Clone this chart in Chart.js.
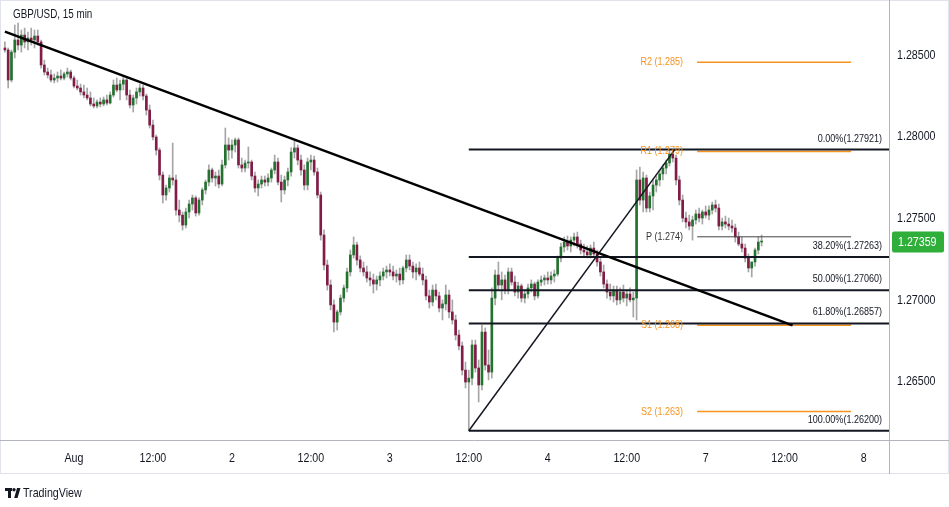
<!DOCTYPE html>
<html>
<head>
<meta charset="utf-8">
<title>GBP/USD, 15 min</title>
<script src="https://cdn.jsdelivr.net/npm/chart.js@4.4.1/dist/chart.umd.min.js"></script>
<style>
  html, body { margin: 0; padding: 0; background: #ffffff; }
  #chart { display: block; }
</style>
</head>
<body>
<canvas id="chart" width="949" height="507"></canvas>
<script>
// Candle data (30 min bars), time in trading hours from Aug 1 00:00
const startHour = -10.5;
const barHours = 0.5;

const opens = [
  1.28543, 1.28531, 1.28347, 1.28518, 1.28592, 1.28561, 1.28622, 1.28580, 1.28604, 1.28592,
  1.28616, 1.28580, 1.28439, 1.28396, 1.28378, 1.28347, 1.28359, 1.28371, 1.28359, 1.28384,
  1.28396, 1.28359, 1.28310, 1.28298, 1.28274, 1.28255, 1.28237, 1.28200, 1.28188, 1.28212,
  1.28200, 1.28225, 1.28206, 1.28255, 1.28316, 1.28286, 1.28322, 1.28347, 1.28255, 1.28194,
  1.28237, 1.28274, 1.28298, 1.28249, 1.28163, 1.28071, 1.27998, 1.27918, 1.27765, 1.27643,
  1.27686, 1.27747, 1.27735, 1.27551, 1.27520, 1.27459, 1.27539, 1.27588, 1.27625, 1.27533,
  1.27612, 1.27674, 1.27722, 1.27796, 1.27747, 1.27759, 1.27710, 1.27827, 1.27949, 1.27918,
  1.27949, 1.27980, 1.27827, 1.27808, 1.27839, 1.27845, 1.27759, 1.27686, 1.27710, 1.27735,
  1.27722, 1.27747, 1.27796, 1.27845, 1.27722, 1.27674, 1.27735, 1.27784, 1.27906, 1.27931,
  1.27857, 1.27796, 1.27704, 1.27845, 1.27857, 1.27784, 1.27643, 1.27398, 1.27214, 1.27092,
  1.26970, 1.26865, 1.26927, 1.27012, 1.27074, 1.27172, 1.27276, 1.27337, 1.27245, 1.27196,
  1.27172, 1.27135, 1.27123, 1.27098, 1.27123, 1.27147, 1.27172, 1.27184, 1.27172, 1.27147,
  1.27159, 1.27123, 1.27196, 1.27245, 1.27208, 1.27172, 1.27196, 1.27159, 1.27123, 1.27025,
  1.26988, 1.27061, 1.27025, 1.26951, 1.26976, 1.27031, 1.26927, 1.26878, 1.26786, 1.26719,
  1.26571, 1.26498, 1.26522, 1.26725, 1.26584, 1.26480, 1.26804, 1.26602, 1.26559, 1.27012,
  1.27153, 1.27092, 1.27123, 1.27061, 1.27172, 1.27110, 1.27049, 1.27086, 1.27012, 1.27037,
  1.27074, 1.27098, 1.27025, 1.27110, 1.27123, 1.27135, 1.27123, 1.27147, 1.27159, 1.27257,
  1.27325, 1.27355, 1.27331, 1.27367, 1.27386, 1.27343, 1.27306, 1.27294, 1.27276, 1.27318,
  1.27282, 1.27233, 1.27172, 1.27098, 1.27049, 1.27025, 1.27061, 1.27001, 1.27049, 1.27012,
  1.27037, 1.27001, 1.27012, 1.27735, 1.27612, 1.27747, 1.27563, 1.27637, 1.27704, 1.27735,
  1.27772, 1.27808, 1.27839, 1.27894, 1.27869, 1.27735, 1.27612, 1.27502, 1.27478, 1.27453,
  1.27490, 1.27527, 1.27502, 1.27539, 1.27520, 1.27551, 1.27582, 1.27563, 1.27453, 1.27478,
  1.27465, 1.27453, 1.27441, 1.27386, 1.27343, 1.27318, 1.27257, 1.27196, 1.27233, 1.27306,
  1.27355
];

const highs = [
  1.28580, 1.28543, 1.28531, 1.28684, 1.28696, 1.28653, 1.28665, 1.28641, 1.28665, 1.28653,
  1.28653, 1.28592, 1.28469, 1.28420, 1.28408, 1.28384, 1.28396, 1.28408, 1.28396, 1.28420,
  1.28408, 1.28371, 1.28347, 1.28322, 1.28316, 1.28298, 1.28274, 1.28237, 1.28225, 1.28237,
  1.28243, 1.28255, 1.28274, 1.28347, 1.28359, 1.28347, 1.28371, 1.28359, 1.28286, 1.28255,
  1.28298, 1.28322, 1.28316, 1.28261, 1.28194, 1.28102, 1.28010, 1.27931, 1.27784, 1.27704,
  1.27765, 1.27961, 1.27765, 1.27612, 1.27539, 1.27563, 1.27612, 1.27643, 1.27637, 1.27625,
  1.27686, 1.27735, 1.27827, 1.27808, 1.27784, 1.27796, 1.27857, 1.28053, 1.27992, 1.27980,
  1.27992, 1.27992, 1.27869, 1.27857, 1.27937, 1.27857, 1.27784, 1.27735, 1.27759, 1.27759,
  1.27772, 1.27808, 1.27888, 1.27869, 1.27765, 1.27759, 1.27808, 1.27931, 1.27974, 1.27949,
  1.27888, 1.27827, 1.27869, 1.27888, 1.27882, 1.27808, 1.27661, 1.27429, 1.27245, 1.27123,
  1.27001, 1.26939, 1.27031, 1.27092, 1.27196, 1.27306, 1.27386, 1.27355, 1.27270, 1.27233,
  1.27208, 1.27172, 1.27159, 1.27147, 1.27172, 1.27196, 1.27208, 1.27221, 1.27208, 1.27184,
  1.27196, 1.27208, 1.27276, 1.27276, 1.27233, 1.27221, 1.27233, 1.27196, 1.27147, 1.27061,
  1.27092, 1.27098, 1.27049, 1.27001, 1.27092, 1.27061, 1.27001, 1.26908, 1.26816, 1.26743,
  1.26620, 1.26571, 1.26755, 1.26755, 1.26633, 1.26847, 1.26829, 1.26694, 1.27074, 1.27184,
  1.27233, 1.27172, 1.27153, 1.27196, 1.27196, 1.27147, 1.27110, 1.27098, 1.27061, 1.27098,
  1.27123, 1.27110, 1.27123, 1.27147, 1.27153, 1.27172, 1.27172, 1.27184, 1.27270, 1.27349,
  1.27386, 1.27392, 1.27386, 1.27410, 1.27416, 1.27367, 1.27343, 1.27331, 1.27337, 1.27355,
  1.27306, 1.27257, 1.27214, 1.27123, 1.27098, 1.27086, 1.27086, 1.27074, 1.27092, 1.27061,
  1.27074, 1.27049, 1.27796, 1.27814, 1.27784, 1.27765, 1.27661, 1.27735, 1.27759, 1.27796,
  1.27827, 1.27857, 1.27918, 1.27921, 1.27888, 1.27759, 1.27643, 1.27539, 1.27520, 1.27514,
  1.27551, 1.27563, 1.27551, 1.27576, 1.27576, 1.27600, 1.27612, 1.27588, 1.27502, 1.27514,
  1.27502, 1.27490, 1.27465, 1.27416, 1.27386, 1.27343, 1.27282, 1.27233, 1.27318, 1.27386,
  1.27398
];

const lows = [
  1.28518, 1.28298, 1.28335, 1.28482, 1.28531, 1.28518, 1.28543, 1.28531, 1.28561, 1.28543,
  1.28561, 1.28420, 1.28378, 1.28359, 1.28335, 1.28329, 1.28335, 1.28347, 1.28347, 1.28365,
  1.28347, 1.28298, 1.28286, 1.28255, 1.28237, 1.28225, 1.28188, 1.28176, 1.28176, 1.28182,
  1.28188, 1.28194, 1.28200, 1.28243, 1.28274, 1.28225, 1.28286, 1.28225, 1.28176, 1.28151,
  1.28200, 1.28249, 1.28225, 1.28133, 1.28053, 1.27980, 1.27888, 1.27735, 1.27594, 1.27612,
  1.27661, 1.27704, 1.27520, 1.27478, 1.27429, 1.27441, 1.27502, 1.27551, 1.27514, 1.27520,
  1.27582, 1.27649, 1.27698, 1.27722, 1.27698, 1.27686, 1.27698, 1.27808, 1.27857, 1.27869,
  1.27906, 1.27808, 1.27784, 1.27784, 1.27808, 1.27735, 1.27661, 1.27637, 1.27686, 1.27698,
  1.27698, 1.27722, 1.27772, 1.27704, 1.27600, 1.27649, 1.27698, 1.27759, 1.27869, 1.27827,
  1.27765, 1.27674, 1.27674, 1.27796, 1.27765, 1.27625, 1.27367, 1.27184, 1.27061, 1.26939,
  1.26804, 1.26816, 1.26908, 1.26988, 1.27049, 1.27147, 1.27257, 1.27214, 1.27172, 1.27147,
  1.27110, 1.27086, 1.27043, 1.27061, 1.27086, 1.27123, 1.27135, 1.27147, 1.27123, 1.27110,
  1.27092, 1.27098, 1.27172, 1.27184, 1.27135, 1.27123, 1.27147, 1.27092, 1.27001, 1.26951,
  1.26964, 1.27001, 1.26927, 1.26878, 1.26939, 1.26890, 1.26853, 1.26755, 1.26694, 1.26541,
  1.26462, 1.26200, 1.26480, 1.26559, 1.26376, 1.26449, 1.26571, 1.26511, 1.26522, 1.26970,
  1.27061, 1.27001, 1.27037, 1.27037, 1.27092, 1.27025, 1.27012, 1.26988, 1.26982, 1.27012,
  1.27049, 1.27001, 1.27012, 1.27086, 1.27092, 1.27098, 1.27098, 1.27110, 1.27147, 1.27233,
  1.27294, 1.27306, 1.27294, 1.27331, 1.27318, 1.27282, 1.27270, 1.27257, 1.27257, 1.27270,
  1.27208, 1.27147, 1.27074, 1.27012, 1.27001, 1.26988, 1.26970, 1.26976, 1.26988, 1.26964,
  1.26988, 1.26896, 1.26878, 1.27582, 1.27539, 1.27539, 1.27539, 1.27551, 1.27661, 1.27698,
  1.27735, 1.27772, 1.27820, 1.27845, 1.27704, 1.27582, 1.27478, 1.27441, 1.27429, 1.27367,
  1.27465, 1.27478, 1.27465, 1.27502, 1.27490, 1.27527, 1.27539, 1.27429, 1.27429, 1.27441,
  1.27429, 1.27416, 1.27355, 1.27331, 1.27294, 1.27233, 1.27172, 1.27141, 1.27208, 1.27282,
  1.27331
];

const closes = [
  1.28531, 1.28347, 1.28518, 1.28592, 1.28561, 1.28622, 1.28580, 1.28604, 1.28592, 1.28616,
  1.28580, 1.28439, 1.28396, 1.28378, 1.28347, 1.28359, 1.28371, 1.28359, 1.28384, 1.28396,
  1.28359, 1.28310, 1.28298, 1.28274, 1.28255, 1.28237, 1.28200, 1.28188, 1.28212, 1.28200,
  1.28225, 1.28206, 1.28255, 1.28316, 1.28286, 1.28322, 1.28347, 1.28255, 1.28194, 1.28237,
  1.28274, 1.28298, 1.28249, 1.28163, 1.28071, 1.27998, 1.27918, 1.27765, 1.27643, 1.27686,
  1.27747, 1.27735, 1.27551, 1.27520, 1.27459, 1.27539, 1.27588, 1.27625, 1.27533, 1.27612,
  1.27674, 1.27722, 1.27796, 1.27747, 1.27759, 1.27710, 1.27827, 1.27949, 1.27918, 1.27949,
  1.27980, 1.27827, 1.27808, 1.27839, 1.27845, 1.27759, 1.27686, 1.27710, 1.27735, 1.27722,
  1.27747, 1.27796, 1.27845, 1.27722, 1.27674, 1.27735, 1.27784, 1.27906, 1.27931, 1.27857,
  1.27796, 1.27704, 1.27845, 1.27857, 1.27784, 1.27643, 1.27398, 1.27214, 1.27092, 1.26970,
  1.26865, 1.26927, 1.27012, 1.27074, 1.27172, 1.27276, 1.27337, 1.27245, 1.27196, 1.27172,
  1.27135, 1.27123, 1.27098, 1.27123, 1.27147, 1.27172, 1.27184, 1.27172, 1.27147, 1.27159,
  1.27123, 1.27196, 1.27245, 1.27208, 1.27172, 1.27196, 1.27159, 1.27123, 1.27025, 1.26988,
  1.27061, 1.27025, 1.26951, 1.26976, 1.27031, 1.26927, 1.26878, 1.26786, 1.26719, 1.26571,
  1.26498, 1.26522, 1.26725, 1.26584, 1.26480, 1.26804, 1.26602, 1.26559, 1.27012, 1.27153,
  1.27092, 1.27123, 1.27061, 1.27172, 1.27110, 1.27049, 1.27086, 1.27012, 1.27037, 1.27074,
  1.27098, 1.27025, 1.27110, 1.27123, 1.27135, 1.27123, 1.27147, 1.27159, 1.27257, 1.27325,
  1.27355, 1.27331, 1.27367, 1.27386, 1.27343, 1.27306, 1.27294, 1.27276, 1.27318, 1.27282,
  1.27233, 1.27172, 1.27098, 1.27049, 1.27025, 1.27061, 1.27001, 1.27049, 1.27012, 1.27037,
  1.27001, 1.27012, 1.27735, 1.27612, 1.27747, 1.27563, 1.27637, 1.27704, 1.27735, 1.27772,
  1.27808, 1.27839, 1.27894, 1.27869, 1.27735, 1.27612, 1.27502, 1.27478, 1.27453, 1.27490,
  1.27527, 1.27502, 1.27539, 1.27520, 1.27551, 1.27582, 1.27563, 1.27453, 1.27478, 1.27465,
  1.27453, 1.27441, 1.27386, 1.27343, 1.27318, 1.27257, 1.27196, 1.27233, 1.27306, 1.27355,
  1.27359
];

// Axis ticks
const timeTickHours = [0, 12, 24, 36, 48, 60, 72, 84, 96, 108, 120];
const timeTickLabels = ['Aug', '12:00', '2', '12:00', '3', '12:00', '4', '12:00', '7', '12:00', '8'];
const priceTicks = [1.265, 1.27, 1.275, 1.28, 1.285];

// Drawings: trend line, fib retracement, daily pivots
const trendHours = [-10.5, 109.2];
const trendPrices = [1.28643, 1.26845];

const fibHours = [60, 91.3];
const fibRatios = ['0.00%', '38.20%', '50.00%', '61.80%', '100.00%'];
const fibPrices = [1.27921, 1.27263, 1.27060, 1.26857, 1.26200];

const pivotNames = ['R2', 'R1', 'P', 'S1', 'S2'];
const pivotPrices = [1.28455, 1.27910, 1.27387, 1.26845, 1.26317];
const pivotHours = [94.7, 118.1];

const UP = '#23722f';
const DOWN = '#801c46';
const WICK = '#a6a6a6';
const INK = '#131722';
const ORANGE = '#f7931e';
const FONT = "'Liberation Sans', Arial, sans-serif";
const SQUEEZE = 0.82; // the screenshot text is horizontally condensed

Chart.defaults.font.family = FONT;

const times = opens.map((_, i) => startHour + i * barHours);
const isUp = i => closes[i] >= opens[i];

/**
 * Two point line dataset on the time/price scales
 */
function segment(hours, prices, color, width) {
  return {
    type: 'line',
    data: [{ x: hours[0], y: prices[0] }, { x: hours[1], y: prices[1] }],
    borderColor: color,
    borderWidth: width,
    pointRadius: 0,
    fill: false,
    order: 0
  };
}

/**
 * Condensed text, like the TradingView screenshot
 */
function text(ctx, str, x, y, size, color, align = 'left') {
  ctx.save();
  ctx.translate(x, y);
  ctx.scale(SQUEEZE, 1);
  ctx.font = `${size}px ${FONT}`;
  ctx.fillStyle = color;
  ctx.textAlign = align;
  ctx.textBaseline = 'middle';
  ctx.fillText(str, 0, 0);
  ctx.restore();
}

const datasets = [
  {
    label: 'wicks',
    data: times.map((t, i) => ({ x: t, y: [lows[i], highs[i]] })),
    backgroundColor: WICK,
    barThickness: 1,
    minBarLength: 1,
    order: 11
  },
  {
    label: 'bodies',
    data: times.map((t, i) => ({ x: t, y: [opens[i], closes[i]] })),
    backgroundColor: ctx => isUp(ctx.dataIndex) ? UP : DOWN,
    barThickness: 2,
    minBarLength: 1,
    order: 10
  },
  segment(trendHours, trendPrices, '#000000', 2.5),
  segment(fibHours, [fibPrices[4], fibPrices[0]], INK, 1.5)
];

fibPrices.forEach(p => {
  datasets.push(segment([fibHours[0], 200], [p, p], INK, 2));
});

pivotPrices.forEach((p, i) => {
  const isPivot = pivotNames[i] === 'P';
  datasets.push(segment(pivotHours, [p, p], isPivot ? '#444444' : ORANGE, isPivot ? 1 : 1.5));
});

/**
 * Frame, axis labels, drawing labels and price tag
 */
const decor = {
  id: 'decor',
  beforeDraw(chart) {
    const ctx = chart.ctx;
    ctx.save();
    ctx.fillStyle = '#ffffff';
    ctx.fillRect(0, 0, chart.width, chart.height);
    ctx.restore();
  },
  afterDraw(chart) {
    const ctx = chart.ctx;
    const area = chart.chartArea;
    const xs = chart.scales.x;
    const ys = chart.scales.y;

    // separators and frame
    ctx.save();
    ctx.strokeStyle = '#e0e3eb';
    ctx.lineWidth = 1;
    ctx.strokeRect(0.5, 0.5, 948, 473);
    ctx.strokeStyle = '#b2b5be';
    ctx.beginPath();
    ctx.moveTo(0, area.bottom + 0.5);
    ctx.lineTo(chart.width, area.bottom + 0.5);
    ctx.moveTo(area.right + 0.5, 0);
    ctx.lineTo(area.right + 0.5, 474);
    ctx.stroke();
    ctx.restore();

    // axis labels from the scales' own ticks
    xs.ticks.forEach(t => {
      const label = timeTickLabels[timeTickHours.indexOf(t.value)];
      text(ctx, label, xs.getPixelForValue(t.value), area.bottom + 18, 13, INK, 'center');
    });
    ys.ticks.forEach(t => {
      text(ctx, t.value.toFixed(5), area.right + 8, ys.getPixelForValue(t.value), 13, INK);
    });

    // title
    text(ctx, 'GBP/USD, 15 min', 13, 15, 12, INK);

    // fib level labels
    fibPrices.forEach((p, i) => {
      const y = ys.getPixelForValue(p);
      text(ctx, fibRatios[i] + '(' + p.toFixed(5) + ')', area.right - 7, y - 11, 11, INK, 'right');
    });

    // pivot labels
    const px = xs.getPixelForValue(pivotHours[0]) - 14;
    pivotPrices.forEach((p, i) => {
      const color = pivotNames[i] === 'P' ? '#333333' : ORANGE;
      text(ctx, pivotNames[i] + ' (' + p.toFixed(3) + ')', px, ys.getPixelForValue(p), 11, color, 'right');
    });

    // last price tag
    const last = closes[closes.length - 1];
    const ly = ys.getPixelForValue(last);
    ctx.save();
    ctx.fillStyle = '#2fae3a';
    ctx.beginPath();
    ctx.roundRect(area.right + 3, ly - 10, 52, 21, 2);
    ctx.fill();
    ctx.restore();
    text(ctx, last.toFixed(5), area.right + 9, ly + 1, 13, '#ffffff');

    // TradingView mark
    ctx.save();
    ctx.fillStyle = INK;
    ctx.fillRect(5, 488, 7, 3);
    ctx.fillRect(8, 488, 3, 10);
    ctx.beginPath();
    ctx.arc(14, 489.8, 1.7, 0, Math.PI * 2);
    ctx.fill();
    ctx.beginPath();
    ctx.moveTo(17, 488);
    ctx.lineTo(20.5, 488);
    ctx.lineTo(17.5, 498);
    ctx.lineTo(14.2, 498);
    ctx.closePath();
    ctx.fill();
    ctx.restore();
    text(ctx, 'TradingView', 23, 493, 13, INK);
  }
};

new Chart(document.getElementById('chart'), {
  type: 'bar',
  data: { datasets },
  options: {
    responsive: false,
    animation: false,
    events: [],
    layout: { padding: { left: 2, top: 2, right: 0, bottom: 33 } },
    datasets: { bar: { grouped: false, borderWidth: 0, borderSkipped: false } },
    plugins: { legend: { display: false }, tooltip: { enabled: false } },
    scales: {
      x: {
        type: 'linear',
        min: -10.94,
        max: 123.86,
        offset: false,
        grid: { display: false, drawTicks: false },
        border: { display: false },
        ticks: { display: false },
        afterBuildTicks: s => { s.ticks = timeTickHours.map(v => ({ value: v })); },
        afterFit: s => { s.height = 34; s.paddingLeft = 0; s.paddingRight = 0; }
      },
      y: {
        position: 'right',
        min: 1.261431,
        max: 1.288245,
        grid: { display: false, drawTicks: false },
        border: { display: false },
        ticks: { display: false },
        afterBuildTicks: s => { s.ticks = priceTicks.map(v => ({ value: v })); },
        afterFit: s => { s.width = 60; s.paddingTop = 0; s.paddingBottom = 0; }
      }
    }
  },
  plugins: [decor]
});
</script>
</body>
</html>
